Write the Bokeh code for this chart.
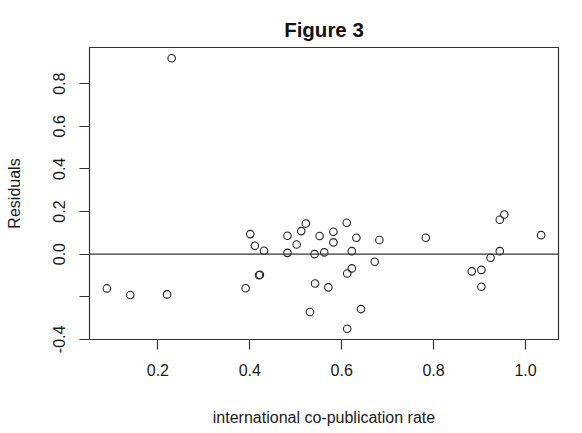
from bokeh.plotting import figure
from bokeh.models import Range1d, FixedTicker, Span, Title
from bokeh.embed import file_html
from bokeh.resources import INLINE

# Data
copub_rate = [0.089, 0.140, 0.220, 0.230, 0.391, 0.401, 0.411, 0.431, 0.420, 0.422,
              0.482, 0.482, 0.502, 0.512, 0.522, 0.541, 0.542, 0.531, 0.552, 0.562,
              0.582, 0.582, 0.611, 0.622, 0.632, 0.682, 0.783, 0.571, 0.612, 0.642,
              0.612, 0.622, 0.672, 0.883, 0.904, 0.904, 0.924, 0.944, 0.944, 0.954,
              1.034]
residuals = [-0.161, -0.192, -0.189, 0.919, -0.160, 0.094, 0.039, 0.016, -0.099, -0.097,
             0.086, 0.006, 0.045, 0.108, 0.144, 0.000, -0.138, -0.272, 0.085, 0.008,
             0.105, 0.055, 0.147, 0.014, 0.077, 0.066, 0.077, -0.156, -0.350, -0.258,
             -0.091, -0.067, -0.036, -0.081, -0.074, -0.153, -0.017, 0.014, 0.161, 0.186,
             0.089]
x_ticks = [0.2, 0.4, 0.6, 0.8, 1.0]
x_tick_labels = ["0.2", "0.4", "0.6", "0.8", "1.0"]
y_ticks = [-0.4, -0.2, 0.0, 0.2, 0.4, 0.6, 0.8]
y_tick_labels = ["-0.4", "", "0.0", "0.2", "0.4", "0.6", "0.8"]
title_text = "Figure 3"

FONT = "Liberation Sans"
TXT = "#1a1a1a"

def padded(vals, frac=0.04):
    lo, hi = min(vals), max(vals)
    d = (hi - lo) * frac
    return lo - d, hi + d

xr = padded(copub_rate)
yr = padded(residuals)

p = figure(width=582, height=433, output_backend="svg", toolbar_location=None,
           x_range=Range1d(*xr), y_range=Range1d(*yr), title_location=None,
           min_border_left=89, min_border_right=24, min_border_top=47, min_border_bottom=94)

p.add_layout(Title(text=title_text, align="center", text_font=FONT, text_font_size="20.5px",
                   text_font_style="bold", text_color="#111111", standoff=14), "above")

p.grid.visible = False
p.background_fill_color = "white"
p.border_fill_color = "white"
p.outline_line_color = "#333333"
p.outline_line_width = 1.2
p.outline_line_alpha = 1.0

for ax, ticks, labels in [(p.xaxis[0], x_ticks, x_tick_labels), (p.yaxis[0], y_ticks, y_tick_labels)]:
    ax.ticker = FixedTicker(ticks=ticks)
    ax.major_label_overrides = {t: l for t, l in zip(ticks, labels)}
    ax.axis_line_color = None
    ax.major_tick_out = 10
    ax.major_tick_in = 0
    ax.major_tick_line_color = "#333333"
    ax.major_tick_line_width = 1.2
    ax.minor_tick_line_color = None
    ax.major_label_text_font = FONT
    ax.major_label_text_font_size = "16px"
    ax.major_label_text_color = TXT
    ax.axis_label_text_font = FONT
    ax.axis_label_text_font_size = "16px"
    ax.axis_label_text_font_style = "normal"
    ax.axis_label_text_color = TXT

p.xaxis.major_label_standoff = 14
p.xaxis.axis_label_standoff = 30
p.yaxis.major_label_standoff = 14
p.yaxis.axis_label_standoff = 28

p.xaxis.axis_label = "international co-publication rate"
p.yaxis.axis_label = "Residuals"
p.yaxis.major_label_orientation = "vertical"

p.add_layout(Span(location=0, dimension="width", line_color="#333333", line_width=1.2))

p.scatter(copub_rate, residuals, marker="circle", size=7.5, fill_color=None,
          line_color="#222222", line_width=1.1)

open("out.html", "w").write(file_html(p, INLINE))
